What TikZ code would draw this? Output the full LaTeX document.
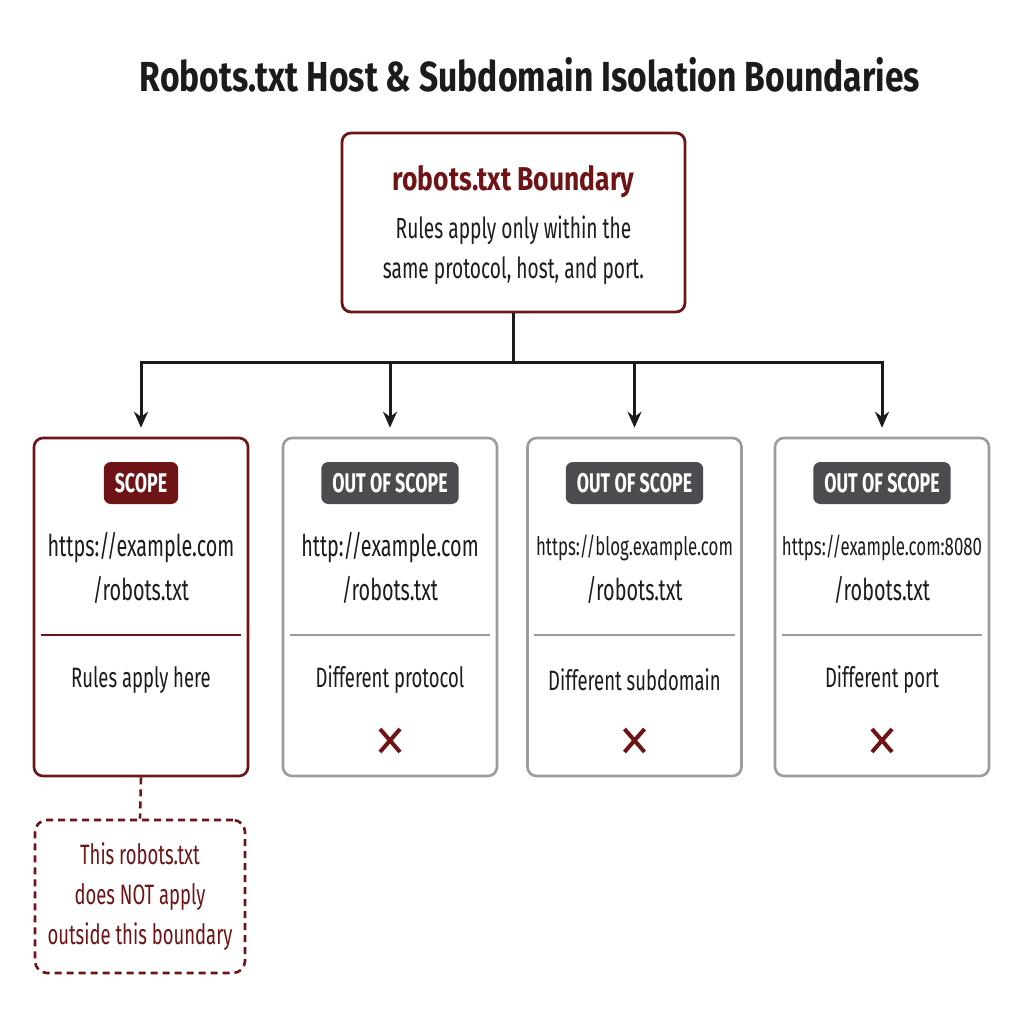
\documentclass[tikz,border=0pt]{standalone}
\usepackage{fontspec}
\setmainfont{Fira Sans}[FakeStretch=0.66]
\newfontfamily\headfont{Fira Sans}[FakeStretch=0.80]
\usepackage{xcolor}
\definecolor{wine}{HTML}{6E1416}
\definecolor{badgegray}{HTML}{4A4C4F}
\definecolor{cardgray}{HTML}{9C9C9C}
\definecolor{inkdark}{HTML}{1C1A1A}
\usepackage{tikz}
\usetikzlibrary{arrows.meta,positioning,calc}

\begin{document}
\begin{tikzpicture}[x=1pt,y=1pt,
    title/.style={font=\headfont\fontsize{42}{46}\selectfont\bfseries, text=inkdark},
    mainbox/.style={rectangle, rounded corners=9pt, draw=wine, line width=2.8pt, fill=white, minimum width=343pt, minimum height=179pt},
    card/.style={rectangle, rounded corners=9pt, draw=#1, line width=2.6pt, fill=white, minimum width=214pt, minimum height=338pt},
    badge/.style={rectangle, rounded corners=7pt, fill=#1, text=white, font=\fontsize{27}{30}\selectfont\bfseries, minimum height=42pt, inner xsep=11pt},
    url/.style={font=\fontsize{#1}{34}\selectfont, text=inkdark},
    url/.default=30,
    note/.style={font=\fontsize{28}{40}\selectfont, text=inkdark},
    link/.style={line width=3pt, inkdark},
    arrow/.style={link, -{Stealth[length=16pt,width=14pt]}, shorten >=9pt},
    xcross/.style={wine, line width=4pt}
  ]
    \useasboundingbox[fill=white] (0,0) rectangle (1024,-1024);

    \node[title] (head) at (530,-75) {Robots.txt Host \& Subdomain Isolation Boundaries};

    % boundary box on top
    \node[mainbox] (bound) at (513.5,-222.5) {};
    \node[font=\headfont\fontsize{33}{36}\selectfont\bfseries, text=wine] (boundhead) at (513.5,-182) {robots.txt Boundary};
    \node[note, font=\fontsize{29}{40}\selectfont, align=center] (boundtext) at (513.5,-250) {Rules apply only within the\\same protocol, host, and port.};

    \coordinate (hub) at (513.5,-362);
    \draw[link] (bound.south) -- (hub);

    % the four cards
    \foreach \i/\x/\col/\bcol/\tag/\host/\hsz/\why/\cross in {
      1/141/wine/wine/SCOPE/{https://example.com}/30/Rules apply here/0,
      2/390/cardgray/badgegray/OUT OF SCOPE/{http://example.com}/30/Different protocol/1,
      3/634.5/cardgray/badgegray/OUT OF SCOPE/{https://blog.example.com}/25.5/Different subdomain/1,
      4/882/cardgray/badgegray/OUT OF SCOPE/{https://example.com:8080}/25.5/Different port/1
    } {
      \node[card=\col] (c\i) at (\x,-607) {};
      \node[badge=\bcol] (b\i) at (\x,-483) {\tag};
      \node[url=\hsz] (u\i) at (\x,-548) {\host};
      \node[url] (p\i) at (\x,-590) {/robots.txt};
      \draw[\col, line width=1.8pt] ($(c\i.west)+(8,-28)$) -- ($(c\i.east)+(-8,-28)$);
      \node[note] (w\i) at (\x,-680) {\why};
      \ifnum\cross=1
        \draw[xcross] (\x-10,-729) -- (\x+10,-752) (\x-10,-752) -- (\x+10,-729);
      \fi
      \draw[arrow] (hub) -| (c\i.north);
    }

    % dashed note under the scope card
    \node[rectangle, rounded corners=12pt, draw=wine, dash pattern=on 7pt off 5pt, line width=2.6pt, minimum width=210pt, minimum height=153pt] (outside) at (140,-896.5) {};
    \node[note, text=wine, align=center] (outsidetext) at (140,-897) {This robots.txt\\does NOT apply\\outside this boundary};
    \draw[wine, line width=2.6pt, dash pattern=on 7pt off 5pt] (c1.south) -- (outside.north);
\end{tikzpicture}
\end{document}
